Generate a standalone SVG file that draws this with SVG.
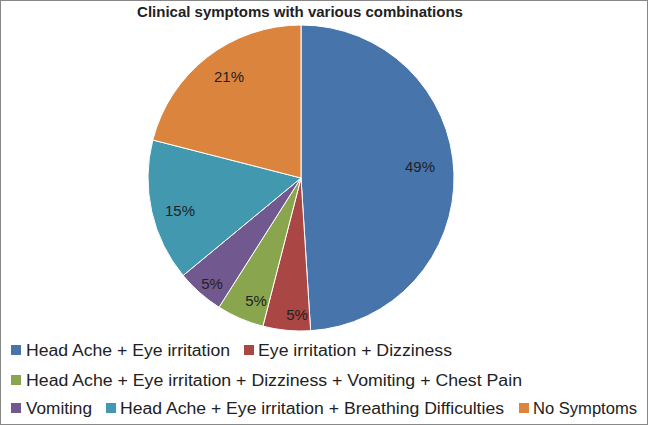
<svg xmlns="http://www.w3.org/2000/svg" width="648" height="425" viewBox="0 0 648 425">
<style>
.t{font-family:"Liberation Sans",Arial,sans-serif;font-size:16px;fill:#222}
.p{font-family:"Liberation Sans",Arial,sans-serif;font-size:15px;fill:#222;text-anchor:middle}
.s{stroke:#fff;stroke-width:1}
</style>
<rect x="0.5" y="0.5" width="647" height="424" fill="#fff" stroke="#888"/>
<text x="300" y="17" text-anchor="middle" style="font-family:'Liberation Sans',Arial,sans-serif;font-size:15px;font-weight:bold;fill:#222">Clinical symptoms with various combinations</text>
<g id="pie">
<path id="s1" class="s" fill="#4674AB" d="M301,178 L301,25 A153,153 0 0 1 310.6,330.7 Z"/>
<path id="s2" class="s" fill="#AA4643" d="M301,178 L310.6,330.7 A153,153 0 0 1 262.9,326.2 Z"/>
<path id="s3" class="s" fill="#89A54E" d="M301,178 L262.9,326.2 A153,153 0 0 1 219.0,307.2 Z"/>
<path id="s4" class="s" fill="#71588F" d="M301,178 L219.0,307.2 A153,153 0 0 1 183.1,275.5 Z"/>
<path id="s5" class="s" fill="#4198AF" d="M301,178 L183.1,275.5 A153,153 0 0 1 152.8,140.0 Z"/>
<path id="s6" class="s" fill="#DB843D" d="M301,178 L152.8,140.0 A153,153 0 0 1 301,25 Z"/>
<text class="p" x="420" y="172">49%</text>
<text class="p" x="297" y="320">5%</text>
<text class="p" x="256" y="306">5%</text>
<text class="p" x="212" y="289">5%</text>
<text class="p" x="180" y="216">15%</text>
<text class="p" x="229" y="82">21%</text>
</g>
<g id="legend">
<rect x="11" y="345" width="10" height="10" fill="#4674AB"/><text class="t" x="26" y="356" textLength="204" lengthAdjust="spacingAndGlyphs">Head Ache + Eye irritation</text>
<rect x="244" y="345" width="10" height="10" fill="#AA4643"/><text class="t" x="258" y="356" textLength="194" lengthAdjust="spacingAndGlyphs">Eye irritation + Dizziness</text>
<rect x="11" y="375" width="10" height="10" fill="#89A54E"/><text class="t" x="26" y="386" textLength="496" lengthAdjust="spacingAndGlyphs">Head Ache + Eye irritation + Dizziness + Vomiting + Chest Pain</text>
<rect x="11" y="403" width="10" height="10" fill="#71588F"/><text class="t" x="26" y="414" textLength="66" lengthAdjust="spacingAndGlyphs">Vomiting</text>
<rect x="106" y="403" width="10" height="10" fill="#4198AF"/><text class="t" x="120" y="414" textLength="384" lengthAdjust="spacingAndGlyphs">Head Ache + Eye irritation + Breathing Difficulties</text>
<rect x="519" y="403" width="10" height="10" fill="#DB843D"/><text class="t" x="533" y="414" textLength="104" lengthAdjust="spacingAndGlyphs">No Symptoms</text>
</g>
</svg>
